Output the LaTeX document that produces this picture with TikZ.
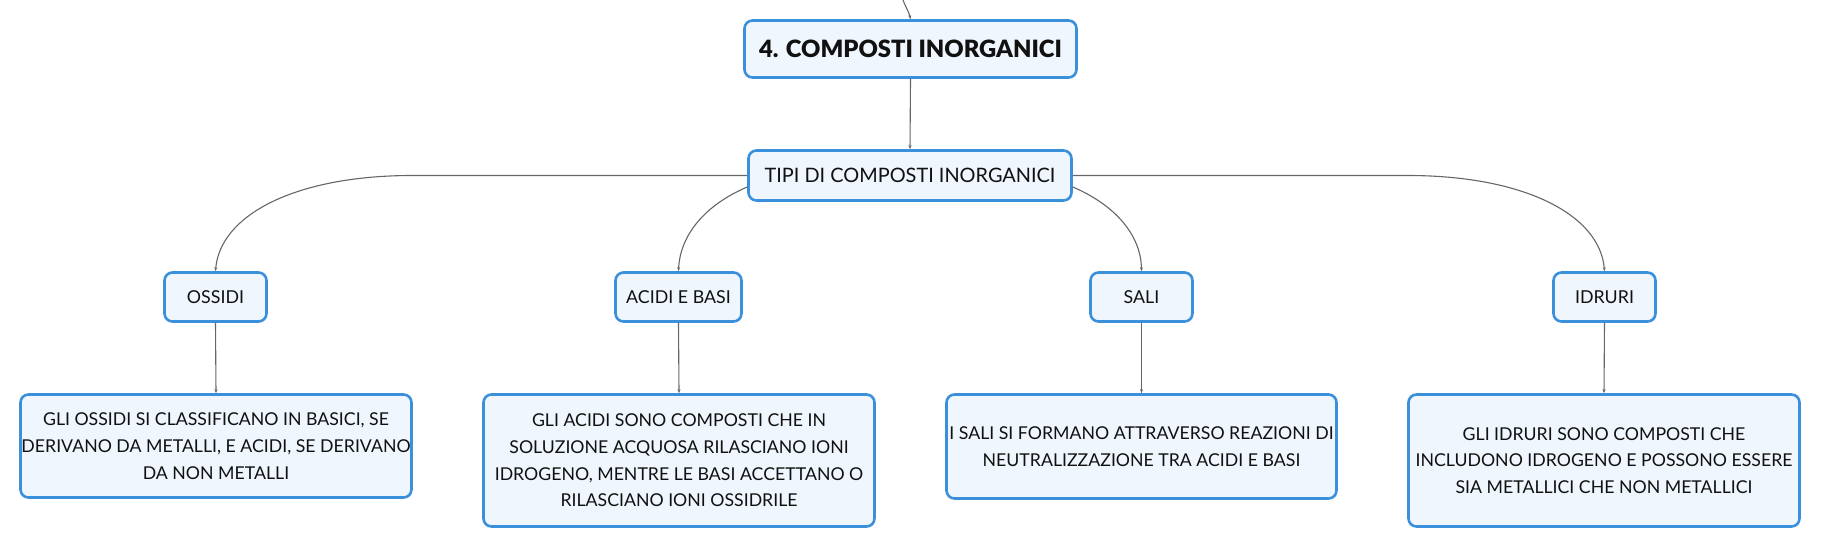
\documentclass[tikz,border=0pt]{standalone}
\usepackage{fontspec}
\setmainfont{Lato}[BoldFont=Lato Black]
\usetikzlibrary{arrows.meta}
\definecolor{boxborder}{HTML}{3B90DC}
\definecolor{boxfill}{HTML}{EFF6FD}
\definecolor{linegray}{HTML}{666666}
\definecolor{txt}{HTML}{111111}
\tikzset{
  box/.style={draw=boxborder, fill=boxfill, line width=2.6pt, rounded corners=8pt,
    inner sep=0pt, align=center, text=txt},
  smallbox/.style={box, minimum width=102pt, minimum height=49pt, font=\fontsize{17.8}{20}\selectfont},
  descbox/.style={box, minimum width=391pt, font=\fontsize{17.7}{26.7}\selectfont},
  conn/.style={draw=linegray, line width=1.1pt, -{Stealth[length=4pt,width=3pt]}},
}
\begin{document}
\begin{tikzpicture}[x=1pt,y=-1pt]
\useasboundingbox (0,0) rectangle (1821,549);
% main nodes
\node[box, minimum width=332pt, minimum height=57pt, font=\fontsize{23.8}{26}\selectfont\bfseries] (top) at (910.5,49) {4. COMPOSTI INORGANICI};
\node[box, minimum width=323pt, minimum height=50pt, font=\fontsize{19.9}{22}\selectfont] (tipi) at (910,175.5) {TIPI DI COMPOSTI INORGANICI};
\node[smallbox] (ossidi) at (215.5,297) {OSSIDI};
\node[smallbox, minimum width=126pt] (acidi) at (678.5,297) {ACIDI E BASI};
\node[smallbox] (sali) at (1141.5,297) {SALI};
\node[smallbox] (idruri) at (1604.5,297) {IDRURI};
% descriptions
\node[descbox, minimum height=103pt] (d1) at (216,446) {GLI OSSIDI SI CLASSIFICANO IN BASICI, SE\\DERIVANO DA METALLI, E ACIDI, SE DERIVANO\\DA NON METALLI};
\node[descbox, minimum height=132pt] (d2) at (679,460.5) {GLI ACIDI SONO COMPOSTI CHE IN\\SOLUZIONE ACQUOSA RILASCIANO IONI\\IDROGENO, MENTRE LE BASI ACCETTANO O\\RILASCIANO IONI OSSIDRILE};
\node[descbox, minimum height=104pt, minimum width=390pt] (d3) at (1141.5,446.5) {I SALI SI FORMANO ATTRAVERSO REAZIONI DI\\NEUTRALIZZAZIONE TRA ACIDI E BASI};
\node[descbox, minimum height=132pt] (d4) at (1604,460.5) {GLI IDRURI SONO COMPOSTI CHE\\INCLUDONO IDROGENO E POSSONO ESSERE\\SIA METALLICI CHE NON METALLICI};
% coordinates
\coordinate (topin) at (903,0);
\coordinate (lk) at (410,175.5);
\coordinate (rk) at (1410,175.5);
% connectors
\draw[conn] (topin) .. controls (906,8) and (909,12) .. (top.north);
\draw[conn] (top.south) -- (tipi.north);
\draw[conn] (tipi.west) -- (lk) .. controls (295,176) and (220,215) .. (ossidi.north);
\draw[conn] (tipi.east) -- (rk) .. controls (1525,176) and (1600,215) .. (idruri.north);
\draw[conn] ([yshift=-11.5pt]tipi.west) .. controls (705,205) and (680,235) .. (acidi.north);
\draw[conn] ([yshift=-11.5pt]tipi.east) .. controls (1115,205) and (1141,235) .. (sali.north);
\draw[conn] (ossidi.south) -- (d1.north);
\draw[conn] (acidi.south) -- (d2.north);
\draw[conn] (sali.south) -- (d3.north);
\draw[conn] (idruri.south) -- (d4.north);
\end{tikzpicture}
\end{document}
